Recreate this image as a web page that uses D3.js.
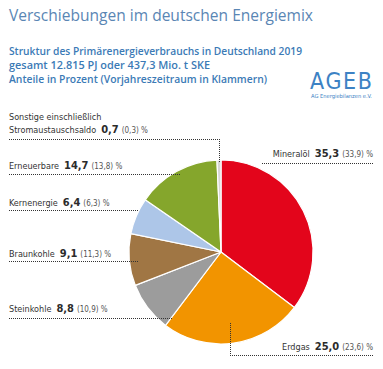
<!DOCTYPE html>
<html><head><meta charset="utf-8">
<script src="https://cdn.jsdelivr.net/npm/d3@7"></script>
<style>
html,body{margin:0;padding:0;background:#fff;}
svg{display:block;}
</style></head>
<body>
<script>
// ---- data ----
const categories = ["Mineralöl","Erdgas","Steinkohle","Braunkohle","Kernenergie","Erneuerbare","Sonstige einschließlich Stromaustauschsaldo"];
const values2019 = [35.3, 25.0, 8.8, 9.1, 6.4, 14.7, 0.7];
const values2018 = [33.9, 23.6, 10.9, 11.3, 6.3, 13.8, 0.3];
const sliceColors = ["#e3051b","#f29400","#9c9c9c","#a07644","#adc6e8","#85a62c","#d6d6d6"];

const titleText = "Verschiebungen im deutschen Energiemix";
const subtitleLines = [
  "Struktur des Primärenergieverbrauchs in Deutschland 2019",
  "gesamt 12.815 PJ oder 437,3 Mio. t SKE",
  "Anteile in Prozent (Vorjahreszeitraum in Klammern)"
];

const W = 383, H = 369;
const cx = 221, cy = 252, R = 92;
const fmt = v => v.toFixed(1).replace(".", ",");
const px5 = v => Math.round(v - 0.5) + 0.5;

const svg = d3.select("body").append("svg").attr("width", W).attr("height", H);

// title
svg.append("text").attr("x", 9).attr("y", 21)
  .attr("font-family", "'Open Sans', 'DejaVu Sans', sans-serif")
  .attr("font-size", 15.5).attr("fill", "#5a86b4")
  .attr("textLength", 304).attr("lengthAdjust", "spacingAndGlyphs")
  .text(titleText);

const subW = [293, 201, 258];
subtitleLines.forEach((t, i) => {
  svg.append("text").attr("x", 9).attr("y", 55 + i * 14)
    .attr("font-family", "'Open Sans', 'DejaVu Sans', sans-serif")
    .attr("font-weight", 600)
    .attr("font-size", 10).attr("fill", "#3b7ab6")
    .attr("textLength", subW[i]).attr("lengthAdjust", "spacingAndGlyphs")
    .text(t);
});

// logo
svg.append("text").attr("x", 310).attr("y", 89)
  .attr("font-family", "'DejaVu Sans Condensed', 'DejaVu Sans', sans-serif").attr("font-weight", 200)
  .attr("font-size", 23).attr("fill", "#3d82c4")
  .attr("textLength", 62).attr("lengthAdjust", "spacing")
  .text("AGEB");
svg.append("text").attr("x", 311).attr("y", 97.5)
  .attr("font-family", "'DejaVu Sans Condensed', 'DejaVu Sans', sans-serif")
  .attr("font-size", 5.5).attr("fill", "#3d82c4")
  .attr("textLength", 61).attr("lengthAdjust", "spacingAndGlyphs")
  .text("AG Energiebilanzen e.V.");

// pie
const pie = d3.pie().sort(null).value(d => d)(values2019);
const arc = d3.arc().innerRadius(0).outerRadius(R);
const g = svg.append("g").attr("transform", `translate(${cx},${cy})`);
g.selectAll("path").data(pie).join("path")
  .attr("d", arc)
  .attr("fill", (d, i) => sliceColors[i])
  .attr("stroke", "#fff").attr("stroke-width", 1.2).attr("stroke-linejoin", "round");

// label layout (annotation positions)
const layout = [
  {side: "right", y: 157, ly: 163, x0: 262, x1: 373},
  {side: "right", y: 350, ly: 355, x1: 373, r: 0.78},
  {side: "left", y: 312, ly: 318, end: 173},
  {side: "left", y: 257, ly: 261, end: 138},
  {side: "left", y: 206, ly: 210, end: 138},
  {side: "left", y: 169, ly: 174, end: 180},
  {side: "left", y: 133, ly: 139, r: 0.97, two: true}
];

const nameFont = "'DejaVu Sans Condensed', 'DejaVu Sans', sans-serif";
const valFont = "'Liberation Sans Narrow', 'DejaVu Sans Condensed', sans-serif";

function drawLabel(i) {
  const L = layout[i];
  const lab = svg.append("g");
  let nameText = categories[i];
  if (L.two) {
    const words = nameText.split(" ");
    lab.append("text").attr("x", 9).attr("y", L.y - 13)
      .attr("font-family", nameFont).attr("font-size", 9).attr("fill", "#333")
      .text(words[0] + " " + words[1]);
    nameText = words[2];
  }
  const t1 = lab.append("text").attr("y", L.y).attr("font-family", nameFont).attr("font-size", 9).attr("fill", "#333").text(nameText);
  const t2 = lab.append("text").attr("y", L.y).attr("font-family", valFont).attr("font-weight", "bold").attr("font-size", 11).attr("fill", "#2b2b2b").text(fmt(values2019[i]));
  const t3 = lab.append("text").attr("y", L.y).attr("font-family", nameFont).attr("font-size", 8).attr("fill", "#555").attr("xml:space", "preserve").text("(" + fmt(values2018[i]) + ") %");
  const w1 = t1.node().getComputedTextLength(), w2 = t2.node().getComputedTextLength(), w3 = t3.node().getComputedTextLength();
  const g1 = 5, g2 = 3;
  let x;
  if (L.side === "left") x = 9; else x = L.x1 - (w1 + g1 + w2 + g2 + w3);
  t1.attr("x", x); t2.attr("x", x + w1 + g1); t3.attr("x", x + w1 + g1 + w2 + g2);

  const ld = svg.append("path").attr("fill", "none").attr("stroke", "#333")
    .attr("stroke-width", 1).attr("stroke-dasharray", "1,1")
    .attr("shape-rendering", "crispEdges");
  const mid = (pie[i].startAngle + pie[i].endAngle) / 2;
  const y = px5(L.ly);
  if (L.side === "left" && !L.r) {
    ld.attr("d", `M9,${y}H${L.end}`);
  } else if (L.side === "left") {
    const ex = px5(cx + Math.sin(mid) * R * L.r);
    const ey = cy - Math.cos(mid) * R * L.r;
    ld.attr("d", `M9,${y}H${ex}V${ey}`);
  } else if (L.r) {
    const ex = px5(cx + Math.sin(mid) * R * L.r);
    const ey = cy - Math.cos(mid) * R * L.r;
    ld.attr("d", `M${L.x1},${y}H${ex}V${ey}`);
  } else {
    ld.attr("d", `M${L.x0},${y}H${L.x1}`);
  }
}
categories.forEach((c, i) => drawLabel(i));
</script>
</body></html>
